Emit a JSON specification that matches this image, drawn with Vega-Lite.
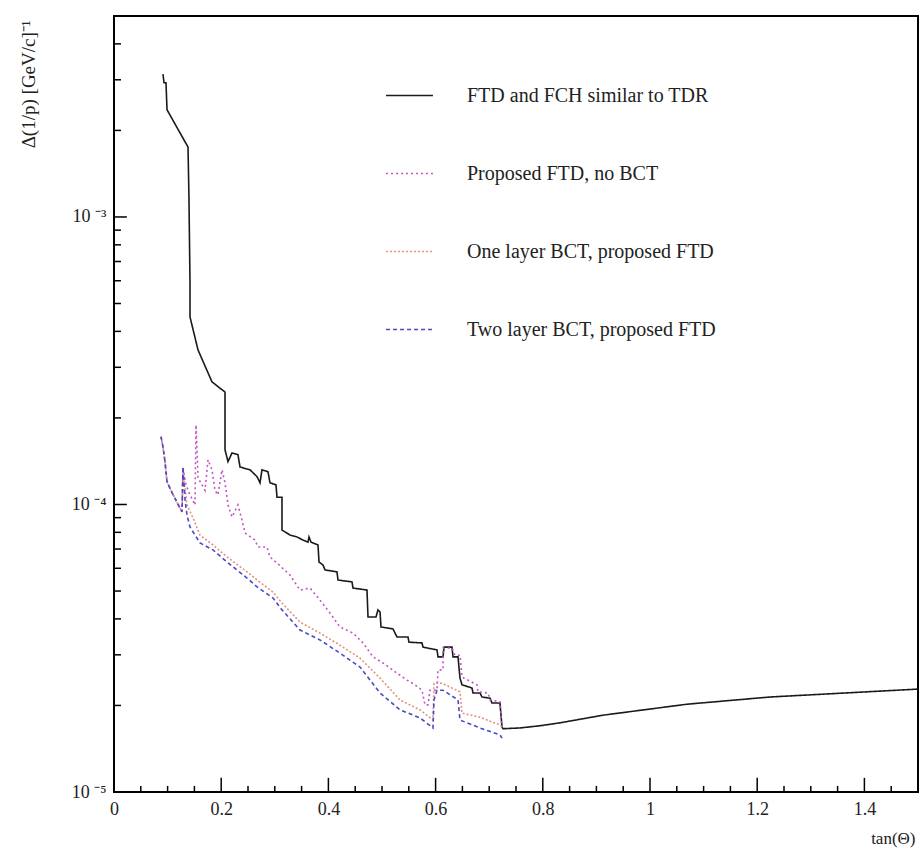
{
 "$schema": "https://vega.github.io/schema/vega-lite/v6.json",
 "width": 804, "height": 776,
 "autosize": {"type": "none"},
 "padding": {"left": 114, "top": 16, "right": 3, "bottom": 57},
 "background": "white",
 "config": {
  "view": {"stroke": "#000", "strokeWidth": 2},
  "font": "Liberation Serif",
  "legend": {"orient": "none", "legendX": 271, "legendY": 55, "symbolType": "stroke", "symbolSize": 2200, "symbolStrokeWidth": 1.6, "labelFont": "Liberation Serif", "labelFontSize": 20, "labelColor": "#222", "labelOffset": 33, "labelLimit": 500, "rowPadding": 43, "padding": 0}
 },
 "datasets": {
  "curves": [
  {"s":"FTD and FCH similar to TDR","i":1,"x":0.0914,"y":0.00314},
  {"s":"FTD and FCH similar to TDR","i":2,"x":0.0933,"y":0.00293},
  {"s":"FTD and FCH similar to TDR","i":3,"x":0.097,"y":0.00293},
  {"s":"FTD and FCH similar to TDR","i":4,"x":0.0989,"y":0.00236},
  {"s":"FTD and FCH similar to TDR","i":5,"x":0.1381,"y":0.00175},
  {"s":"FTD and FCH similar to TDR","i":6,"x":0.1399,"y":0.00115},
  {"s":"FTD and FCH similar to TDR","i":7,"x":0.1418,"y":0.00059},
  {"s":"FTD and FCH similar to TDR","i":8,"x":0.1418,"y":0.000449},
  {"s":"FTD and FCH similar to TDR","i":9,"x":0.1567,"y":0.000345},
  {"s":"FTD and FCH similar to TDR","i":10,"x":0.1828,"y":0.000267},
  {"s":"FTD and FCH similar to TDR","i":11,"x":0.2071,"y":0.000246},
  {"s":"FTD and FCH similar to TDR","i":12,"x":0.2071,"y":0.000155},
  {"s":"FTD and FCH similar to TDR","i":13,"x":0.2127,"y":0.000141},
  {"s":"FTD and FCH similar to TDR","i":14,"x":0.2201,"y":0.000151},
  {"s":"FTD and FCH similar to TDR","i":15,"x":0.2313,"y":0.000149},
  {"s":"FTD and FCH similar to TDR","i":16,"x":0.2351,"y":0.000135},
  {"s":"FTD and FCH similar to TDR","i":17,"x":0.2537,"y":0.000132},
  {"s":"FTD and FCH similar to TDR","i":18,"x":0.2668,"y":0.000125},
  {"s":"FTD and FCH similar to TDR","i":19,"x":0.2724,"y":0.000119},
  {"s":"FTD and FCH similar to TDR","i":20,"x":0.2761,"y":0.000132},
  {"s":"FTD and FCH similar to TDR","i":21,"x":0.2873,"y":0.00013},
  {"s":"FTD and FCH similar to TDR","i":22,"x":0.291,"y":0.000119},
  {"s":"FTD and FCH similar to TDR","i":23,"x":0.3022,"y":0.000117},
  {"s":"FTD and FCH similar to TDR","i":24,"x":0.3041,"y":0.000106},
  {"s":"FTD and FCH similar to TDR","i":25,"x":0.3134,"y":0.000106},
  {"s":"FTD and FCH similar to TDR","i":26,"x":0.3134,"y":0.0000815},
  {"s":"FTD and FCH similar to TDR","i":27,"x":0.3284,"y":0.0000783},
  {"s":"FTD and FCH similar to TDR","i":28,"x":0.3414,"y":0.0000771},
  {"s":"FTD and FCH similar to TDR","i":29,"x":0.3526,"y":0.0000752},
  {"s":"FTD and FCH similar to TDR","i":30,"x":0.3619,"y":0.000074},
  {"s":"FTD and FCH similar to TDR","i":31,"x":0.3638,"y":0.0000771},
  {"s":"FTD and FCH similar to TDR","i":32,"x":0.3675,"y":0.000074},
  {"s":"FTD and FCH similar to TDR","i":33,"x":0.3806,"y":0.0000723},
  {"s":"FTD and FCH similar to TDR","i":34,"x":0.3825,"y":0.0000631},
  {"s":"FTD and FCH similar to TDR","i":35,"x":0.3899,"y":0.0000616},
  {"s":"FTD and FCH similar to TDR","i":36,"x":0.3937,"y":0.0000592},
  {"s":"FTD and FCH similar to TDR","i":37,"x":0.416,"y":0.0000583},
  {"s":"FTD and FCH similar to TDR","i":38,"x":0.4179,"y":0.0000546},
  {"s":"FTD and FCH similar to TDR","i":39,"x":0.444,"y":0.0000538},
  {"s":"FTD and FCH similar to TDR","i":40,"x":0.4459,"y":0.0000512},
  {"s":"FTD and FCH similar to TDR","i":41,"x":0.472,"y":0.0000504},
  {"s":"FTD and FCH similar to TDR","i":42,"x":0.4739,"y":0.0000406},
  {"s":"FTD and FCH similar to TDR","i":43,"x":0.4888,"y":0.0000406},
  {"s":"FTD and FCH similar to TDR","i":44,"x":0.4925,"y":0.000043},
  {"s":"FTD and FCH similar to TDR","i":45,"x":0.4963,"y":0.0000423},
  {"s":"FTD and FCH similar to TDR","i":46,"x":0.4981,"y":0.0000375},
  {"s":"FTD and FCH similar to TDR","i":47,"x":0.5205,"y":0.0000369},
  {"s":"FTD and FCH similar to TDR","i":48,"x":0.528,"y":0.0000346},
  {"s":"FTD and FCH similar to TDR","i":49,"x":0.5485,"y":0.0000346},
  {"s":"FTD and FCH similar to TDR","i":50,"x":0.5504,"y":0.0000332},
  {"s":"FTD and FCH similar to TDR","i":51,"x":0.5746,"y":0.000033},
  {"s":"FTD and FCH similar to TDR","i":52,"x":0.5765,"y":0.0000319},
  {"s":"FTD and FCH similar to TDR","i":53,"x":0.6026,"y":0.0000312},
  {"s":"FTD and FCH similar to TDR","i":54,"x":0.6045,"y":0.0000295},
  {"s":"FTD and FCH similar to TDR","i":55,"x":0.6138,"y":0.0000295},
  {"s":"FTD and FCH similar to TDR","i":56,"x":0.6157,"y":0.0000319},
  {"s":"FTD and FCH similar to TDR","i":57,"x":0.6306,"y":0.0000319},
  {"s":"FTD and FCH similar to TDR","i":58,"x":0.6325,"y":0.0000295},
  {"s":"FTD and FCH similar to TDR","i":59,"x":0.6418,"y":0.0000295},
  {"s":"FTD and FCH similar to TDR","i":60,"x":0.6455,"y":0.0000249},
  {"s":"FTD and FCH similar to TDR","i":61,"x":0.6493,"y":0.0000236},
  {"s":"FTD and FCH similar to TDR","i":62,"x":0.6679,"y":0.000023},
  {"s":"FTD and FCH similar to TDR","i":63,"x":0.6698,"y":0.0000221},
  {"s":"FTD and FCH similar to TDR","i":64,"x":0.6828,"y":0.0000221},
  {"s":"FTD and FCH similar to TDR","i":65,"x":0.6866,"y":0.0000214},
  {"s":"FTD and FCH similar to TDR","i":66,"x":0.7015,"y":0.0000212},
  {"s":"FTD and FCH similar to TDR","i":67,"x":0.7052,"y":0.0000204},
  {"s":"FTD and FCH similar to TDR","i":68,"x":0.7201,"y":0.0000204},
  {"s":"FTD and FCH similar to TDR","i":69,"x":0.7239,"y":0.0000168},
  {"s":"FTD and FCH similar to TDR","i":70,"x":0.7257,"y":0.0000166},
  {"s":"FTD and FCH similar to TDR","i":71,"x":0.7575,"y":0.0000167},
  {"s":"FTD and FCH similar to TDR","i":72,"x":0.7948,"y":0.000017},
  {"s":"FTD and FCH similar to TDR","i":73,"x":0.8321,"y":0.0000174},
  {"s":"FTD and FCH similar to TDR","i":74,"x":0.9123,"y":0.0000185},
  {"s":"FTD and FCH similar to TDR","i":75,"x":1.069,"y":0.0000202},
  {"s":"FTD and FCH similar to TDR","i":76,"x":1.2239,"y":0.0000214},
  {"s":"FTD and FCH similar to TDR","i":77,"x":1.5,"y":0.0000228},

  {"s":"Proposed FTD, no BCT","i":1,"x":0.0877,"y":0.000172},
  {"s":"Proposed FTD, no BCT","i":2,"x":0.0914,"y":0.0001585},
  {"s":"Proposed FTD, no BCT","i":3,"x":0.0951,"y":0.000141},
  {"s":"Proposed FTD, no BCT","i":4,"x":0.0989,"y":0.00012},
  {"s":"Proposed FTD, no BCT","i":5,"x":0.1082,"y":0.00011},
  {"s":"Proposed FTD, no BCT","i":6,"x":0.1231,"y":0.0000972},
  {"s":"Proposed FTD, no BCT","i":7,"x":0.1269,"y":0.0000942},
  {"s":"Proposed FTD, no BCT","i":8,"x":0.1287,"y":0.000135},
  {"s":"Proposed FTD, no BCT","i":9,"x":0.1343,"y":0.000117},
  {"s":"Proposed FTD, no BCT","i":10,"x":0.1418,"y":0.000108},
  {"s":"Proposed FTD, no BCT","i":11,"x":0.1511,"y":0.0000996},
  {"s":"Proposed FTD, no BCT","i":12,"x":0.153,"y":0.000189},
  {"s":"Proposed FTD, no BCT","i":13,"x":0.1549,"y":0.000155},
  {"s":"Proposed FTD, no BCT","i":14,"x":0.1567,"y":0.000124},
  {"s":"Proposed FTD, no BCT","i":15,"x":0.1698,"y":0.000112},
  {"s":"Proposed FTD, no BCT","i":16,"x":0.1754,"y":0.000143},
  {"s":"Proposed FTD, no BCT","i":17,"x":0.1828,"y":0.000132},
  {"s":"Proposed FTD, no BCT","i":18,"x":0.1884,"y":0.000112},
  {"s":"Proposed FTD, no BCT","i":19,"x":0.194,"y":0.000108},
  {"s":"Proposed FTD, no BCT","i":20,"x":0.2015,"y":0.000132},
  {"s":"Proposed FTD, no BCT","i":21,"x":0.2071,"y":0.000119},
  {"s":"Proposed FTD, no BCT","i":22,"x":0.2127,"y":0.0000996},
  {"s":"Proposed FTD, no BCT","i":23,"x":0.2201,"y":0.0000905},
  {"s":"Proposed FTD, no BCT","i":24,"x":0.2313,"y":0.0000996},
  {"s":"Proposed FTD, no BCT","i":25,"x":0.2388,"y":0.0000883},
  {"s":"Proposed FTD, no BCT","i":26,"x":0.2444,"y":0.0000796},
  {"s":"Proposed FTD, no BCT","i":27,"x":0.2631,"y":0.0000752},
  {"s":"Proposed FTD, no BCT","i":28,"x":0.2687,"y":0.0000711},
  {"s":"Proposed FTD, no BCT","i":29,"x":0.2854,"y":0.0000711},
  {"s":"Proposed FTD, no BCT","i":30,"x":0.291,"y":0.0000657},
  {"s":"Proposed FTD, no BCT","i":31,"x":0.3041,"y":0.0000626},
  {"s":"Proposed FTD, no BCT","i":32,"x":0.3284,"y":0.0000568},
  {"s":"Proposed FTD, no BCT","i":33,"x":0.347,"y":0.0000504},
  {"s":"Proposed FTD, no BCT","i":34,"x":0.3657,"y":0.0000512},
  {"s":"Proposed FTD, no BCT","i":35,"x":0.3843,"y":0.0000465},
  {"s":"Proposed FTD, no BCT","i":36,"x":0.403,"y":0.0000419},
  {"s":"Proposed FTD, no BCT","i":37,"x":0.4216,"y":0.0000375},
  {"s":"Proposed FTD, no BCT","i":38,"x":0.4459,"y":0.0000357},
  {"s":"Proposed FTD, no BCT","i":39,"x":0.4646,"y":0.000033},
  {"s":"Proposed FTD, no BCT","i":40,"x":0.4832,"y":0.0000295},
  {"s":"Proposed FTD, no BCT","i":41,"x":0.5019,"y":0.0000281},
  {"s":"Proposed FTD, no BCT","i":42,"x":0.528,"y":0.0000259},
  {"s":"Proposed FTD, no BCT","i":43,"x":0.5466,"y":0.0000245},
  {"s":"Proposed FTD, no BCT","i":44,"x":0.5616,"y":0.0000236},
  {"s":"Proposed FTD, no BCT","i":45,"x":0.5746,"y":0.0000226},
  {"s":"Proposed FTD, no BCT","i":46,"x":0.5802,"y":0.0000201},
  {"s":"Proposed FTD, no BCT","i":47,"x":0.5858,"y":0.0000201},
  {"s":"Proposed FTD, no BCT","i":48,"x":0.5896,"y":0.0000226},
  {"s":"Proposed FTD, no BCT","i":49,"x":0.6026,"y":0.0000226},
  {"s":"Proposed FTD, no BCT","i":50,"x":0.6045,"y":0.0000266},
  {"s":"Proposed FTD, no BCT","i":51,"x":0.6138,"y":0.0000266},
  {"s":"Proposed FTD, no BCT","i":52,"x":0.6138,"y":0.0000317},
  {"s":"Proposed FTD, no BCT","i":53,"x":0.6306,"y":0.0000317},
  {"s":"Proposed FTD, no BCT","i":54,"x":0.6362,"y":0.0000299},
  {"s":"Proposed FTD, no BCT","i":55,"x":0.6455,"y":0.0000299},
  {"s":"Proposed FTD, no BCT","i":56,"x":0.6493,"y":0.0000251},
  {"s":"Proposed FTD, no BCT","i":57,"x":0.6772,"y":0.0000236},
  {"s":"Proposed FTD, no BCT","i":58,"x":0.6791,"y":0.0000223},
  {"s":"Proposed FTD, no BCT","i":59,"x":0.6978,"y":0.0000221},
  {"s":"Proposed FTD, no BCT","i":60,"x":0.7015,"y":0.0000209},
  {"s":"Proposed FTD, no BCT","i":61,"x":0.7201,"y":0.0000206},
  {"s":"Proposed FTD, no BCT","i":62,"x":0.7239,"y":0.0000168},

  {"s":"One layer BCT, proposed FTD","i":1,"x":0.0877,"y":0.000172},
  {"s":"One layer BCT, proposed FTD","i":2,"x":0.0914,"y":0.0001585},
  {"s":"One layer BCT, proposed FTD","i":3,"x":0.0951,"y":0.000141},
  {"s":"One layer BCT, proposed FTD","i":4,"x":0.0989,"y":0.00012},
  {"s":"One layer BCT, proposed FTD","i":5,"x":0.1082,"y":0.00011},
  {"s":"One layer BCT, proposed FTD","i":6,"x":0.1231,"y":0.0000972},
  {"s":"One layer BCT, proposed FTD","i":7,"x":0.1269,"y":0.0000942},
  {"s":"One layer BCT, proposed FTD","i":8,"x":0.1287,"y":0.000132},
  {"s":"One layer BCT, proposed FTD","i":9,"x":0.1362,"y":0.0000996},
  {"s":"One layer BCT, proposed FTD","i":10,"x":0.1474,"y":0.0000898},
  {"s":"One layer BCT, proposed FTD","i":11,"x":0.1604,"y":0.0000783},
  {"s":"One layer BCT, proposed FTD","i":12,"x":0.1847,"y":0.0000723},
  {"s":"One layer BCT, proposed FTD","i":13,"x":0.2108,"y":0.0000657},
  {"s":"One layer BCT, proposed FTD","i":14,"x":0.2481,"y":0.0000583},
  {"s":"One layer BCT, proposed FTD","i":15,"x":0.2668,"y":0.0000546},
  {"s":"One layer BCT, proposed FTD","i":16,"x":0.2966,"y":0.0000496},
  {"s":"One layer BCT, proposed FTD","i":17,"x":0.3134,"y":0.0000454},
  {"s":"One layer BCT, proposed FTD","i":18,"x":0.347,"y":0.000039},
  {"s":"One layer BCT, proposed FTD","i":19,"x":0.3843,"y":0.0000357},
  {"s":"One layer BCT, proposed FTD","i":20,"x":0.4216,"y":0.0000324},
  {"s":"One layer BCT, proposed FTD","i":21,"x":0.459,"y":0.0000292},
  {"s":"One layer BCT, proposed FTD","i":22,"x":0.4963,"y":0.0000249},
  {"s":"One layer BCT, proposed FTD","i":23,"x":0.5336,"y":0.0000209},
  {"s":"One layer BCT, proposed FTD","i":24,"x":0.5709,"y":0.0000193},
  {"s":"One layer BCT, proposed FTD","i":25,"x":0.5951,"y":0.0000178},
  {"s":"One layer BCT, proposed FTD","i":26,"x":0.597,"y":0.0000239},
  {"s":"One layer BCT, proposed FTD","i":27,"x":0.6119,"y":0.0000239},
  {"s":"One layer BCT, proposed FTD","i":28,"x":0.6455,"y":0.0000223},
  {"s":"One layer BCT, proposed FTD","i":29,"x":0.6493,"y":0.0000188},
  {"s":"One layer BCT, proposed FTD","i":30,"x":0.6828,"y":0.0000182},
  {"s":"One layer BCT, proposed FTD","i":31,"x":0.7201,"y":0.0000171},
  {"s":"One layer BCT, proposed FTD","i":32,"x":0.7239,"y":0.0000168},

  {"s":"Two layer BCT, proposed FTD","i":1,"x":0.0877,"y":0.000172},
  {"s":"Two layer BCT, proposed FTD","i":2,"x":0.0914,"y":0.0001585},
  {"s":"Two layer BCT, proposed FTD","i":3,"x":0.0951,"y":0.000141},
  {"s":"Two layer BCT, proposed FTD","i":4,"x":0.0989,"y":0.00012},
  {"s":"Two layer BCT, proposed FTD","i":5,"x":0.1082,"y":0.00011},
  {"s":"Two layer BCT, proposed FTD","i":6,"x":0.1231,"y":0.0000972},
  {"s":"Two layer BCT, proposed FTD","i":7,"x":0.1269,"y":0.0000942},
  {"s":"Two layer BCT, proposed FTD","i":8,"x":0.1287,"y":0.000135},
  {"s":"Two layer BCT, proposed FTD","i":9,"x":0.1325,"y":0.000104},
  {"s":"Two layer BCT, proposed FTD","i":10,"x":0.1362,"y":0.0000919},
  {"s":"Two layer BCT, proposed FTD","i":11,"x":0.1418,"y":0.0000835},
  {"s":"Two layer BCT, proposed FTD","i":12,"x":0.1604,"y":0.0000735},
  {"s":"Two layer BCT, proposed FTD","i":13,"x":0.1847,"y":0.0000695},
  {"s":"Two layer BCT, proposed FTD","i":14,"x":0.2108,"y":0.0000631},
  {"s":"Two layer BCT, proposed FTD","i":15,"x":0.2481,"y":0.0000555},
  {"s":"Two layer BCT, proposed FTD","i":16,"x":0.2668,"y":0.0000517},
  {"s":"Two layer BCT, proposed FTD","i":17,"x":0.2966,"y":0.0000473},
  {"s":"Two layer BCT, proposed FTD","i":18,"x":0.3134,"y":0.000043},
  {"s":"Two layer BCT, proposed FTD","i":19,"x":0.347,"y":0.0000366},
  {"s":"Two layer BCT, proposed FTD","i":20,"x":0.3843,"y":0.0000338},
  {"s":"Two layer BCT, proposed FTD","i":21,"x":0.4216,"y":0.0000304},
  {"s":"Two layer BCT, proposed FTD","i":22,"x":0.459,"y":0.0000272},
  {"s":"Two layer BCT, proposed FTD","i":23,"x":0.4963,"y":0.0000221},
  {"s":"Two layer BCT, proposed FTD","i":24,"x":0.5336,"y":0.0000193},
  {"s":"Two layer BCT, proposed FTD","i":25,"x":0.5709,"y":0.0000181},
  {"s":"Two layer BCT, proposed FTD","i":26,"x":0.5951,"y":0.0000167},
  {"s":"Two layer BCT, proposed FTD","i":27,"x":0.597,"y":0.0000209},
  {"s":"Two layer BCT, proposed FTD","i":28,"x":0.6026,"y":0.0000226},
  {"s":"Two layer BCT, proposed FTD","i":29,"x":0.6138,"y":0.0000226},
  {"s":"Two layer BCT, proposed FTD","i":30,"x":0.6418,"y":0.0000209},
  {"s":"Two layer BCT, proposed FTD","i":31,"x":0.6455,"y":0.0000178},
  {"s":"Two layer BCT, proposed FTD","i":32,"x":0.6828,"y":0.0000167},
  {"s":"Two layer BCT, proposed FTD","i":33,"x":0.7201,"y":0.0000158},
  {"s":"Two layer BCT, proposed FTD","i":34,"x":0.7239,"y":0.0000154}
  ],
  "xticks": [
   {"v":0,"k":"major"},{"v":0.05,"k":"minor"},{"v":0.1,"k":"minor"},{"v":0.15,"k":"minor"},
   {"v":0.2,"k":"major"},{"v":0.25,"k":"minor"},{"v":0.3,"k":"minor"},{"v":0.35,"k":"minor"},
   {"v":0.4,"k":"major"},{"v":0.45,"k":"minor"},{"v":0.5,"k":"minor"},{"v":0.55,"k":"minor"},
   {"v":0.6,"k":"major"},{"v":0.65,"k":"minor"},{"v":0.7,"k":"minor"},{"v":0.75,"k":"minor"},
   {"v":0.8,"k":"major"},{"v":0.85,"k":"minor"},{"v":0.9,"k":"minor"},{"v":0.95,"k":"minor"},
   {"v":1,"k":"major"},{"v":1.05,"k":"minor"},{"v":1.1,"k":"minor"},{"v":1.15,"k":"minor"},
   {"v":1.2,"k":"major"},{"v":1.25,"k":"minor"},{"v":1.3,"k":"minor"},{"v":1.35,"k":"minor"},
   {"v":1.4,"k":"major"},{"v":1.45,"k":"minor"}
  ],
  "yticks": [
   {"v":0.00001,"k":"major"},{"v":0.00002,"k":"minor"},{"v":0.00003,"k":"minor"},{"v":0.00004,"k":"minor"},{"v":0.00005,"k":"minor"},{"v":0.00006,"k":"minor"},{"v":0.00007,"k":"minor"},{"v":0.00008,"k":"minor"},{"v":0.00009,"k":"minor"},
   {"v":0.0001,"k":"major"},{"v":0.0002,"k":"minor"},{"v":0.0003,"k":"minor"},{"v":0.0004,"k":"minor"},{"v":0.0005,"k":"minor"},{"v":0.0006,"k":"minor"},{"v":0.0007,"k":"minor"},{"v":0.0008,"k":"minor"},{"v":0.0009,"k":"minor"},
   {"v":0.001,"k":"major"},{"v":0.002,"k":"minor"},{"v":0.003,"k":"minor"},{"v":0.004,"k":"minor"}
  ]
 },
 "layer": [
  {
   "data": {"name": "curves"},
   "mark": {"type": "line", "strokeWidth": 1.6, "clip": true},
   "encoding": {
    "x": {"field": "x", "type": "quantitative",
     "scale": {"domain": [0, 1.5], "nice": false, "zero": false},
     "axis": {"title": "tan(Θ)", "values": [0,0.2,0.4,0.6,0.8,1,1.2,1.4], "format": "~g",
      "domain": false, "grid": false, "ticks": false,
      "labelFont": "Liberation Serif", "labelFontSize": 18, "labelColor": "#222", "labelPadding": 8, "labelOverlap": false, "labelFlush": false,
      "titleFont": "Liberation Serif", "titleFontSize": 17, "titleFontWeight": "normal", "titleColor": "#222",
      "titleX": 801, "titleY": 46, "titleAlign": "right", "titleBaseline": "middle"}},
    "y": {"field": "y", "type": "quantitative",
     "scale": {"type": "log", "domain": [0.00001, 0.005], "nice": false},
     "axis": {"title": "Δ(1/p) [GeV/c]⁻¹", "values": [0.00001, 0.0001, 0.001],
      "labelExpr": "datum.value<0.00005?'10 ⁻⁵':datum.value<0.0005?'10 ⁻⁴':'10 ⁻³'",
      "domain": false, "grid": false, "ticks": false,
      "labelFont": "Liberation Serif", "labelFontSize": 18, "labelColor": "#222", "labelPadding": 8, "labelOverlap": false, "labelFlush": false,
      "titleFont": "Liberation Serif", "titleFontSize": 19, "titleFontWeight": "normal", "titleColor": "#222",
      "titleX": -86, "titleY": 4, "titleAlign": "right", "titleBaseline": "middle", "titleAngle": 270}},
    "color": {"field": "s", "type": "nominal",
     "scale": {"domain": ["FTD and FCH similar to TDR", "Proposed FTD, no BCT", "One layer BCT, proposed FTD", "Two layer BCT, proposed FTD"], "range": ["#1a1a1a", "#c455c4", "#e0957a", "#4a4ac4"]},
     "legend": {"title": null}},
    "strokeDash": {"field": "s", "type": "nominal",
     "scale": {"domain": ["FTD and FCH similar to TDR", "Proposed FTD, no BCT", "One layer BCT, proposed FTD", "Two layer BCT, proposed FTD"], "range": [[1, 0], [2, 3], [2, 2], [4, 3]]},
     "legend": {"title": null}},
    "order": {"field": "i", "type": "quantitative"}
   }
  },
  {
   "data": {"name": "xticks"},
   "transform": [{"filter": "datum.k == 'major'"}],
   "mark": {"type": "rule", "strokeWidth": 1.5, "color": "#000"},
   "encoding": {
    "x": {"field": "v", "type": "quantitative"},
    "y": {"datum": 0.00001, "type": "quantitative"},
    "y2": {"datum": 0.0000112}
   }
  },
  {
   "data": {"name": "xticks"},
   "transform": [{"filter": "datum.k == 'minor'"}],
   "mark": {"type": "rule", "strokeWidth": 1.5, "color": "#000"},
   "encoding": {
    "x": {"field": "v", "type": "quantitative"},
    "y": {"datum": 0.00001, "type": "quantitative"},
    "y2": {"datum": 0.0000105}
   }
  },
  {
   "data": {"name": "yticks"},
   "transform": [{"filter": "datum.k == 'major'"}],
   "mark": {"type": "rule", "strokeWidth": 1.5, "color": "#000"},
   "encoding": {
    "y": {"field": "v", "type": "quantitative"},
    "x": {"datum": 0, "type": "quantitative"},
    "x2": {"datum": 0.024}
   }
  },
  {
   "data": {"name": "yticks"},
   "transform": [{"filter": "datum.k == 'minor'"}],
   "mark": {"type": "rule", "strokeWidth": 1.5, "color": "#000"},
   "encoding": {
    "y": {"field": "v", "type": "quantitative"},
    "x": {"datum": 0, "type": "quantitative"},
    "x2": {"datum": 0.013}
   }
  }
 ]
}
